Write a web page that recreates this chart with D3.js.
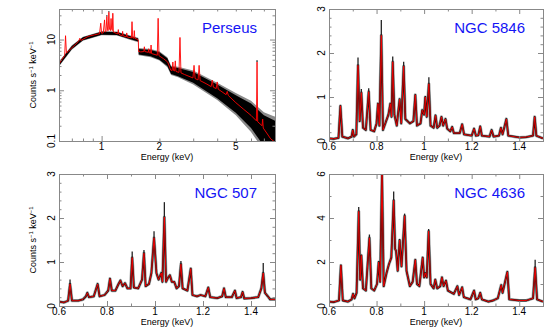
<!DOCTYPE html>
<html>
  <head>
    <title>Cluster spectra</title>
    <script src="https://d3js.org/d3.v7.min.js"></script>
    <style>
      body { margin: 0; background: #fff; }
      text { font-family: "Liberation Sans", Arial, sans-serif; }
    </style>
  </head>
  <body>
    <svg id="chart" width="545" height="327"></svg>
    <script>
      // ---- tick values / labels ----
      const xMajorLin = [0.6, 0.8, 1.0, 1.2, 1.4];
      const xMinorLin = [0.7, 0.9, 1.1, 1.3, 1.5];
      const xLabelsLin = ["0.6", "0.8", "1", "1.2", "1.4"];
      const xMajorLog = [1];
      const xMinorLog = [0.6, 0.7, 0.8, 0.9, 2, 3, 4, 5, 6, 7, 8];
      const xLabelsLog = ["1", "2", "5"];
      const yMajorLog = [0.1, 1, 10];
      const yMinorLog = [0.2, 0.3, 0.4, 0.5, 0.6, 0.7, 0.8, 0.9, 2, 3, 4, 5, 6, 7, 8, 9, 20, 30, 40];
      const yLabelsLog = ["0.1", "1", "10"];
      const yMajor3 = [0, 1, 2, 3];
      const yMinor3 = [0.2, 0.4, 0.6, 0.8, 1.2, 1.4, 1.6, 1.8, 2.2, 2.4, 2.6, 2.8];
      const yMajor6 = [0, 2, 4, 6];
      const yMinor6 = [1, 3, 5];

      // ---- Perseus (log-log) ----
      const perseusModel = [[0.600,3.3],[0.620,4.0],[0.642,4.8],[0.649,11.9],[0.656,5.4],[0.680,6.2],[0.720,7.6],
        [0.760,9.3],[0.770,10.6],[0.780,9.6],[0.850,11.5],[0.920,12.4],[0.975,13.0],[0.990,21],[1.000,13.3],
        [1.020,13.5],[1.036,24.4],[1.045,14],[1.055,14.5],[1.065,28.4],[1.075,15],[1.083,15],[1.091,34.5],
        [1.100,16],[1.112,15],[1.120,26],[1.128,16],[1.137,15],[1.144,33],[1.152,14],[1.190,13.3],[1.215,13],
        [1.222,15.7],[1.230,12.8],[1.265,12.0],[1.280,12.0],[1.287,14.5],[1.295,11.8],[1.345,11.3],[1.352,13.5],
        [1.360,11.2],[1.430,10.8],[1.440,22.5],[1.452,10.8],[1.472,10.6],[1.480,15],[1.490,10.5],[1.530,10.2],
        [1.552,9.8],[1.560,5.8],[1.600,5.7],[1.660,5.8],[1.670,7.2],[1.680,5.8],[1.750,5.6],[1.760,6.6],
        [1.770,5.5],[1.800,5.4],[1.810,7.8],[1.820,5.3],[1.950,4.9],[1.970,26.2],[1.990,4.8],[2.100,4.2],
        [2.210,3.6],[2.290,2.5],[2.330,2.45],[2.350,3.6],[2.370,2.45],[2.400,2.4],[2.420,3.8],[2.440,2.35],
        [2.530,2.25],[2.560,11.0],[2.590,2.2],[2.700,2.05],[2.990,1.75],[3.030,3.1],[3.070,1.7],[3.180,1.6],
        [3.220,3.1],[3.260,1.55],[3.500,1.35],[3.720,1.18],[3.770,1.58],[3.820,1.15],[3.950,1.08],[4.000,1.46],
        [4.050,1.05],[4.450,0.82],[4.510,0.95],[4.570,0.79],[5.000,0.57],[5.500,0.42],[6.000,0.32],[6.400,0.25],
        [6.450,3.6],[6.500,0.24],[6.850,0.2],[6.900,0.27],[6.950,0.18],[7.600,0.11],[8.000,0.095]];
      // data band (black) and its error bars (grey): [E, low, high]
      const perseusBlack = [[0.6,3.05,3.55],[0.7,6.5,7.5],[0.8,9.7,11.1],[1.0,12.4,14.2],[1.2,12.3,14.1],
        [1.4,10.2,11.8],[1.552,9.1,10.5],[1.56,5.1,6.5],[1.8,4.7,6.2],[2.0,4.0,5.6],[2.2,3.0,4.3],[2.3,2.1,2.9],
        [2.5,1.9,2.75],[3.0,1.4,2.3],[4.0,0.70,1.30],[5.0,0.36,0.80],[6.0,0.18,0.55],[7.0,0.08,0.32],[8.0,0.05,0.25]];
      const perseusGrey = [[0.6,2.95,3.65],[0.7,6.3,7.7],[0.8,9.5,11.3],[1.0,12.1,14.5],[1.2,12.0,14.4],
        [1.4,9.9,12.1],[1.552,8.8,10.8],[1.56,4.9,6.8],[1.8,4.5,6.5],[2.0,3.85,5.85],[2.2,2.85,4.5],[2.3,2.0,3.05],
        [2.5,1.8,2.9],[3.0,1.3,2.45],[4.0,0.64,1.4],[5.0,0.32,0.88],[6.0,0.15,0.62],[7.0,0.065,0.37],[8.0,0.04,0.3]];
      const perseusPeaks = [[1.091,36],[1.065,30],[6.45,3.9]];

      // ---- NGC 5846 ----
      const ngc5846Model = [[0.600,0.06],[0.620,0.05],[0.640,0.07],[0.648,0.80],[0.656,0.10],[0.680,0.06],
        [0.695,0.10],[0.700,0.25],[0.705,0.10],[0.715,0.15],[0.722,1.72],[0.729,0.45],[0.736,1.10],[0.743,0.30],
        [0.755,0.25],[0.767,1.12],[0.775,0.25],[0.790,0.22],[0.800,0.40],[0.806,0.85],[0.812,0.35],[0.820,2.40],
        [0.827,0.25],[0.840,0.45],[0.850,0.60],[0.858,0.85],[0.863,0.55],[0.868,1.80],[0.875,0.60],[0.885,0.35],
        [0.897,0.95],[0.904,0.40],[0.914,1.70],[0.921,0.50],[0.940,0.40],[0.955,0.45],[0.963,1.05],[0.970,0.35],
        [0.985,0.40],[0.992,0.70],[1.000,0.60],[1.005,1.00],[1.011,0.55],[1.020,1.30],[1.027,0.35],[1.040,0.30],
        [1.048,0.58],[1.055,0.30],[1.065,0.35],[1.073,0.55],[1.080,0.35],[1.090,0.50],[1.097,0.28],[1.110,0.22],
        [1.118,0.32],[1.125,0.18],[1.150,0.18],[1.160,0.38],[1.168,0.15],[1.200,0.12],[1.210,0.28],[1.218,0.12],
        [1.228,0.13],[1.236,0.33],[1.243,0.12],[1.275,0.10],[1.284,0.25],[1.292,0.10],[1.315,0.12],[1.323,0.30],
        [1.330,0.15],[1.346,0.50],[1.354,0.12],[1.400,0.08],[1.430,0.09],[1.458,0.12],[1.465,0.55],[1.472,0.12],
        [1.500,0.06]];
      const ngc5846Peaks = [[0.722,1.90],[0.820,2.75],[0.868,1.92],[0.914,1.80],[1.020,1.45],[0.736,1.18],[0.767,1.20]];

      // ---- NGC 507 ----
      const ngc507Model = [[0.600,0.10],[0.620,0.08],[0.638,0.12],[0.646,0.50],[0.654,0.12],[0.680,0.12],
        [0.700,0.15],[0.712,0.22],[0.718,0.30],[0.725,0.20],[0.745,0.22],[0.761,0.50],[0.769,0.22],[0.790,0.25],
        [0.805,0.35],[0.8125,0.62],[0.820,0.35],[0.835,0.35],[0.848,0.50],[0.856,0.58],[0.865,0.45],[0.875,0.52],
        [0.885,0.40],[0.898,0.40],[0.905,1.10],[0.912,0.42],[0.930,0.40],[0.946,0.60],[0.954,1.20],[0.961,0.45],
        [0.975,0.50],[0.985,0.75],[0.996,1.55],[1.006,0.75],[1.015,0.60],[1.026,0.75],[1.031,0.55],[1.039,2.02],
        [1.046,0.55],[1.055,0.65],[1.062,0.70],[1.070,0.55],[1.080,0.55],[1.090,0.40],[1.100,0.45],[1.108,0.95],
        [1.115,0.40],[1.135,0.35],[1.149,0.85],[1.156,0.25],[1.175,0.22],[1.190,0.25],[1.210,0.22],[1.222,0.42],
        [1.230,0.20],[1.260,0.18],[1.280,0.22],[1.2875,0.40],[1.295,0.20],[1.320,0.20],[1.333,0.35],[1.340,0.18],
        [1.358,0.20],[1.365,0.32],[1.372,0.17],[1.400,0.18],[1.430,0.20],[1.443,0.40],[1.451,0.75],[1.458,0.30],
        [1.470,0.22],[1.480,0.15],[1.500,0.15]];
      const ngc507Peaks = [[1.039,2.36],[0.996,1.70],[0.905,1.24],[0.954,1.27],[1.451,0.98],[1.108,1.02],[0.646,0.60]];

      // ---- NGC 4636 ----
      const ngc4636Model = [[0.600,0.20],[0.620,0.18],[0.642,0.25],[0.650,1.85],[0.658,0.25],[0.680,0.20],
        [0.695,0.30],[0.701,0.55],[0.707,0.35],[0.716,0.60],[0.725,4.30],[0.731,1.20],[0.736,2.30],[0.743,0.80],
        [0.755,0.70],[0.770,3.10],[0.778,0.80],[0.790,0.70],[0.802,1.00],[0.809,2.00],[0.815,1.10],[0.823,6.00],
        [0.830,0.90],[0.842,1.50],[0.852,1.90],[0.862,2.20],[0.872,4.80],[0.878,2.60],[0.882,2.50],[0.889,1.60],
        [0.897,3.00],[0.905,1.80],[0.918,4.10],[0.926,1.60],[0.940,0.90],[0.952,1.10],[0.963,2.10],[0.970,1.00],
        [0.980,0.90],[0.994,2.20],[1.000,1.30],[1.005,1.50],[1.011,1.30],[1.019,3.40],[1.027,1.00],[1.040,0.80],
        [1.047,1.20],[1.055,0.80],[1.068,0.90],[1.075,1.30],[1.082,0.90],[1.092,1.15],[1.100,0.70],[1.125,0.55],
        [1.140,0.90],[1.147,0.50],[1.160,0.85],[1.167,0.40],[1.195,0.30],[1.210,0.70],[1.217,0.30],[1.228,0.35],
        [1.236,0.60],[1.243,0.30],[1.270,0.20],[1.290,0.25],[1.310,0.35],[1.324,0.95],[1.330,0.60],[1.350,1.55],
        [1.358,0.30],[1.400,0.25],[1.430,0.25],[1.458,0.35],[1.467,1.75],[1.475,0.30],[1.500,0.20]];
      const ngc4636Peaks = [[0.725,4.5],[0.872,5.2],[0.918,4.2],[0.770,3.25],[1.019,3.5],[1.467,2.1],[0.897,3.0]];

      const svg = d3.select("#chart");
      const frameColor = "#888";
      const blue = "#1414f5";

      const panels = [
        { id: "p1", title: "Perseus", x0: 59, x1: 275, y0: 9, y1: 141, log: true,
          model: perseusModel, black: perseusBlack, grey: perseusGrey, peaks: perseusPeaks,
          yDomain: [0.1, 40], yMajor: yMajorLog, yMinor: yMinorLog, yLabels: yLabelsLog, yTitle: true },
        { id: "p2", title: "NGC 5846", x0: 329, x1: 543, y0: 9, y1: 141, log: false,
          model: ngc5846Model, peaks: ngc5846Peaks,
          yDomain: [0, 3], yMajor: yMajor3, yMinor: yMinor3, yLabels: yMajor3.map(String), yTitle: false },
        { id: "p3", title: "NGC 507", x0: 59, x1: 275, y0: 174, y1: 306, log: false,
          model: ngc507Model, peaks: ngc507Peaks,
          yDomain: [0, 3], yMajor: yMajor3, yMinor: yMinor3, yLabels: yMajor3.map(String), yTitle: true },
        { id: "p4", title: "NGC 4636", x0: 329, x1: 543, y0: 174, y1: 306, log: false,
          model: ngc4636Model, peaks: ngc4636Peaks,
          yDomain: [0, 6], yMajor: yMajor6, yMinor: yMinor6, yLabels: yMajor6.map(String), yTitle: false }
      ];

      panels.forEach(drawPanel);

      function drawPanel(p) {
        const x = p.log
          ? d3.scaleLog().domain([0.6, 8]).range([p.x0, p.x1])
          : d3.scaleLinear().domain([0.6, 1.5]).range([p.x0, p.x1]);
        const y = p.log
          ? d3.scaleLog().domain(p.yDomain).range([p.y1, p.y0])
          : d3.scaleLinear().domain(p.yDomain).range([p.y1, p.y0]);

        svg.append("clipPath").attr("id", "clip-" + p.id)
          .append("rect")
          .attr("x", p.x0).attr("y", p.y0)
          .attr("width", p.x1 - p.x0).attr("height", p.y1 - p.y0);

        const g = svg.append("g").attr("clip-path", "url(#clip-" + p.id + ")");
        const line = d3.line().x(d => x(d[0])).y(d => y(d[1]));

        if (p.black) {
          const area = d3.area().x(d => x(d[0])).y0(d => y(d[1])).y1(d => y(d[2]));
          g.append("path").datum(p.grey).attr("d", area).attr("fill", "#8a8a8a");
          g.append("path").datum(p.black).attr("d", area).attr("fill", "#000");
        } else {
          g.append("path").datum(p.model).attr("d", line)
            .attr("fill", "none").attr("stroke", "#a8a8a8").attr("stroke-width", 3.2)
            .attr("stroke-linejoin", "round");
          g.append("path").datum(p.model).attr("d", line)
            .attr("fill", "none").attr("stroke", "#111").attr("stroke-width", 1.8)
            .attr("stroke-linejoin", "round");
        }

        // data points that sit above the model at the strongest lines
        const modelAt = e => p.model.find(d => Math.abs(d[0] - e) < 1e-6)[1];
        g.selectAll("line.peak")
          .data(p.peaks)
          .join("line")
          .classed("peak", true)
          .attr("x1", d => x(d[0])).attr("x2", d => x(d[0]))
          .attr("y1", d => y(modelAt(d[0]))).attr("y2", d => y(d[1]))
          .attr("stroke", "#222").attr("stroke-width", 1.3);

        g.append("path").datum(p.model).attr("d", line)
          .attr("fill", "none").attr("stroke", "#ff0000").attr("stroke-width", 0.9)
          .attr("stroke-linejoin", "round");

        // frame
        svg.append("rect")
          .attr("x", p.x0 + 0.5).attr("y", p.y0 + 0.5)
          .attr("width", p.x1 - p.x0).attr("height", p.y1 - p.y0)
          .attr("fill", "none").attr("stroke", frameColor);

        const xMajor = p.log ? xMajorLog : xMajorLin;
        const xMinor = p.log ? xMinorLog : xMinorLin;

        const ticks = [
          [d3.axisBottom, x, xMajor, xMinor, `translate(0,${p.y1})`],
          [d3.axisTop, x, xMajor, xMinor, `translate(0,${p.y0})`],
          [d3.axisLeft, y, p.yMajor, p.yMinor, `translate(${p.x0},0)`],
          [d3.axisRight, y, p.yMajor, p.yMinor, `translate(${p.x1},0)`]
        ];
        ticks.forEach(([axis, s, major, minor, tr]) => {
          svg.append("g").attr("transform", tr).attr("color", frameColor)
            .call(axis(s).tickValues(major).tickSize(-5).tickFormat(""))
            .call(a => a.select(".domain").remove());
          svg.append("g").attr("transform", tr).attr("color", frameColor)
            .call(axis(s).tickValues(minor).tickSize(-2.5).tickFormat(""))
            .call(a => a.select(".domain").remove());
        });

        // x tick labels
        const xLab = p.log ? xLabelsLog : xLabelsLin;
        svg.append("g").selectAll("text")
          .data(xLab)
          .join("text")
          .attr("x", d => x(+d))
          .attr("y", p.y1 + 8.5)
          .attr("text-anchor", "middle")
          .attr("font-size", 10)
          .text(d => d);

        // y tick labels, rotated
        svg.append("g").selectAll("text")
          .data(p.yLabels)
          .join("text")
          .attr("transform", d => `translate(${p.x0 - 4},${y(+d)}) rotate(-90)`)
          .attr("text-anchor", "middle")
          .attr("font-size", 10)
          .text(d => d);

        svg.append("text")
          .attr("x", (p.x0 + p.x1) / 2)
          .attr("y", p.y1 + 19)
          .attr("text-anchor", "middle")
          .attr("font-size", 9)
          .text("Energy (keV)");

        if (p.yTitle) {
          const t = svg.append("text")
            .attr("transform", `translate(36,${(p.y0 + p.y1) / 2}) rotate(-90)`)
            .attr("text-anchor", "middle")
            .attr("font-size", 9);
          t.append("tspan").text("Counts s");
          t.append("tspan").attr("font-size", 6).attr("dy", -3.5).text("\u22121");
          t.append("tspan").attr("dy", 3.5).text(" keV");
          t.append("tspan").attr("font-size", 6).attr("dy", -3.5).text("\u22121");
        }

        svg.append("text")
          .attr("x", p.x1 - 18)
          .attr("y", p.y0 + 24)
          .attr("text-anchor", "end")
          .attr("font-size", 15)
          .attr("fill", blue)
          .text(p.title);
      }
    </script>
  </body>
</html>
